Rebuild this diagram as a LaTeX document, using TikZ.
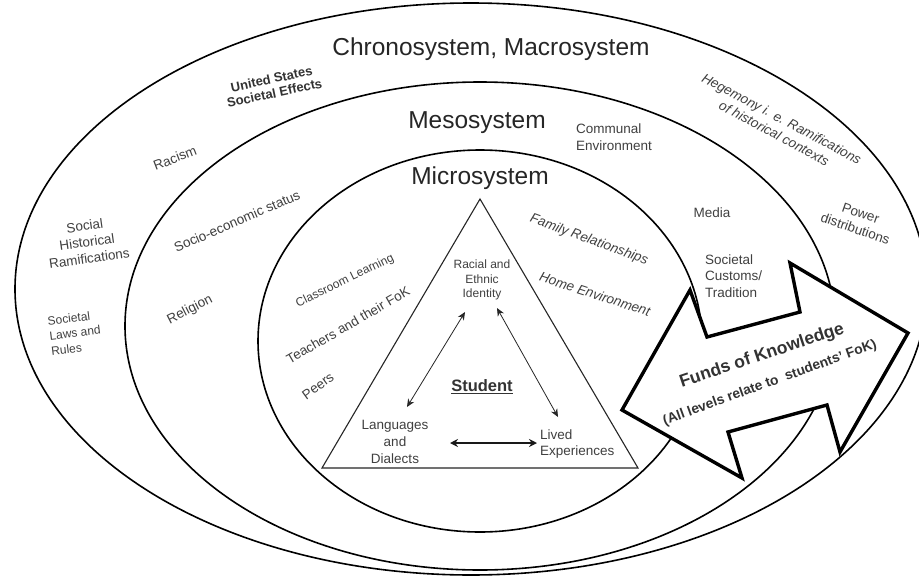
\documentclass[tikz,border=0pt]{standalone}
\usepackage{fontspec}
\setmainfont{Liberation Sans}
\usetikzlibrary{arrows.meta}
\tikzset{
  ring/.style={line width=1.6pt},
  tri/.style={line width=1.1pt, black!85},
  bigarrow/.style={line width=3.4pt, fill=white, line join=miter},
  title/.style={font=\fontsize{24.5}{28}\selectfont, text=black!85, inner sep=0pt},
  lbl/.style={font=\fontsize{13.5}{16.5}\selectfont, text=black!75, align=center, inner sep=0pt},
  lbli/.style={font=\fontsize{13.5}{16.5}\selectfont\itshape, text=black!75, align=center, inner sep=0pt},
  lblsm/.style={font=\fontsize{12}{15}\selectfont, text=black!75, align=center, inner sep=0pt},
  lblb/.style={font=\fontsize{13}{14.5}\selectfont\bfseries, text=black!80, align=center, inner sep=0pt},
  link/.style={line width=0.8pt, black!85, {Stealth[length=8pt,width=7pt]}-{Stealth[length=8pt,width=7pt]}},
  hlink/.style={line width=1.4pt, black!90, {Stealth[length=8pt,width=8pt]}-{Stealth[length=8pt,width=8pt]}}
}
\begin{document}
\begin{tikzpicture}[x=1pt,y=-1pt]
\useasboundingbox (0,0) rectangle (919,576);
\fill[white] (0,0) rectangle (919,576);
% ellipses
\draw[ring] (471,289) ellipse [x radius=456pt, y radius=286pt];
\draw[ring] (480,326) ellipse [x radius=355pt, y radius=244pt];
\draw[ring] (480,341) ellipse [x radius=222pt, y radius=191pt];
% triangle
\draw[tri] (480,199) -- (322,468) -- (638,468) -- cycle;
% big double arrow
\draw[bigarrow] (622,410) -- (690,290) -- (707,337) -- (800,312) -- (790,263)
  -- (908,333) -- (840,452) -- (827,405) -- (728,432) -- (742,478) -- cycle;
% titles
\node[title] (chrono) at (491,49) {Chronosystem, Macrosystem};
\node[title] (meso) at (477,123) {Mesosystem};
\node[title] (micro) at (480,178) {Microsystem};
% outer ring labels
\node[lblb, rotate=12] (use) at (273,86) {United States\\Societal Effects};
\node[lbl, rotate=21] (racism) at (175,158) {Racism};
\node[lbl, rotate=8] (shr) at (87,242) {Social\\Historical\\Ramifications};
\node[lblsm, rotate=7, align=left] (slr) at (75,333) {Societal\\Laws and\\Rules};
\node[lbli, rotate=-28] (heg) at (778,126) {Hegemony i. e. Ramifications\\of historical contexts};
\node[lbl, rotate=-19] (power) at (858,221) {Power\\distributions};
% meso labels
\node[lbl, rotate=23.5] (ses) at (237,221) {Socio-economic status};
\node[lbl, rotate=27] (rel) at (190,310) {Religion};
\node[lbl, align=left, anchor=west] (comm) at (576,137) {Communal\\Environment};
\node[lbl] (media) at (712,213) {Media};
\node[lbl, align=left, anchor=west] (cust) at (705,276) {Societal\\Customs/\\Tradition};
% micro labels
\node[lbli, rotate=-20] (fam) at (589,240) {Family Relationships};
\node[lbli, rotate=-18] (home) at (595,294) {Home Environment};
\node[lblsm, rotate=26] (class) at (345,281) {Classroom Learning};
\node[lbl, rotate=30] (teach) at (348,325) {Teachers and their FoK};
\node[lbl, rotate=36] (peers) at (318,386) {Peers};
% triangle labels
\node[lblsm, font=\fontsize{12}{14.5}\selectfont] (race) at (482,280) {Racial and\\Ethnic\\Identity};
\node[lblb, font=\fontsize{16.5}{18}\selectfont\bfseries] (student) at (482,387) {\underline{Student}};
\node[lbl, font=\fontsize{13.5}{17}\selectfont] (lang) at (395,442) {Languages\\and\\Dialects};
\node[lbl, align=left, anchor=west] (lived) at (540,444) {Lived\\Experiences};
% arrow text
\node[lblb, font=\fontsize{17.5}{20}\selectfont\bfseries, rotate=18.5] (fok) at (762,356) {Funds of Knowledge};
\node[lblb, font=\fontsize{13.8}{16}\selectfont\bfseries, rotate=20] (all) at (770,383) {(All levels relate to\ \ students' FoK)};
% connectors
\coordinate (a1) at (465,312);
\coordinate (a2) at (407,407);
\coordinate (b1) at (497,308);
\coordinate (b2) at (558,417);
\coordinate (c1) at (450,443);
\coordinate (c2) at (537,443);
\draw[link] (a1) -- (a2);
\draw[link] (b1) -- (b2);
\draw[hlink] (c1) -- (c2);
\end{tikzpicture}
\end{document}
